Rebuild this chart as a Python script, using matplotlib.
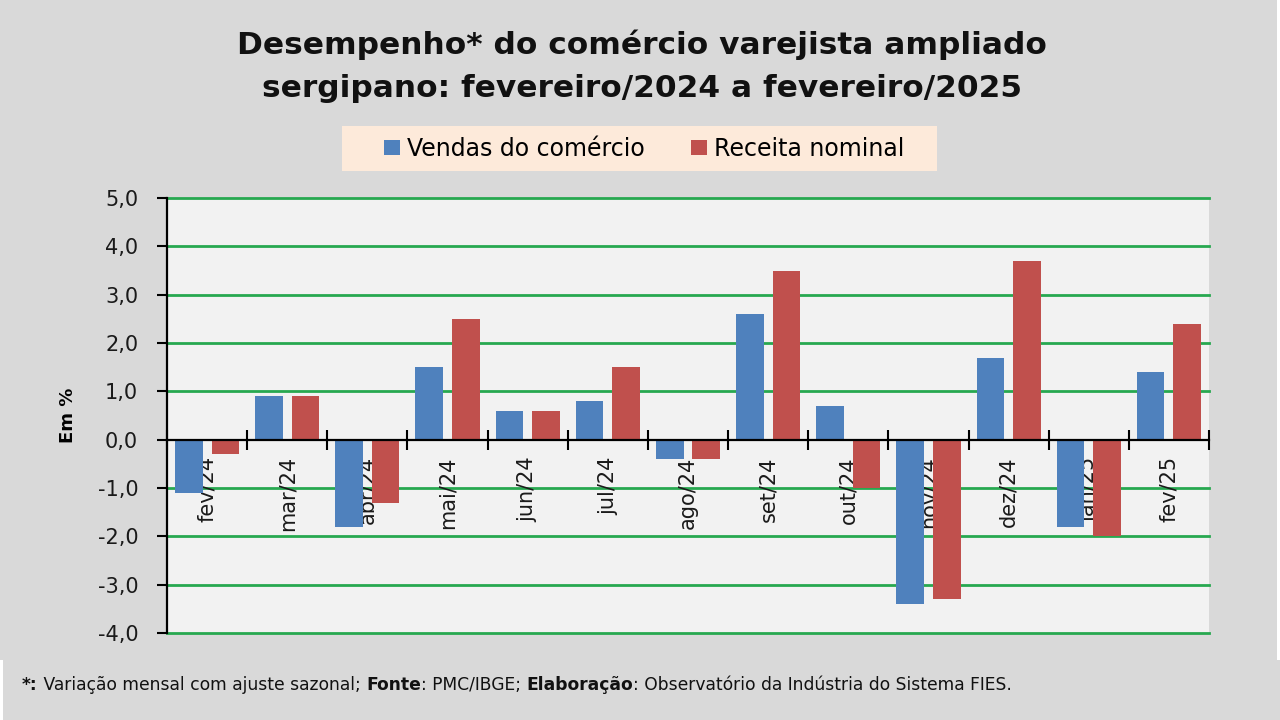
import matplotlib
matplotlib.use("Agg")
import matplotlib.pyplot as plt
from matplotlib.patches import Rectangle
import numpy as np

months = ["fev/24", "mar/24", "abr/24", "mai/24", "jun/24", "jul/24", "ago/24",
          "set/24", "out/24", "nov/24", "dez/24", "jan/25", "fev/25"]
vendas = [-1.1, 0.9, -1.8, 1.5, 0.6, 0.8, -0.4, 2.6, 0.7, -3.4, 1.7, -1.8, 1.4]
receita = [-0.3, 0.9, -1.3, 2.5, 0.6, 1.5, -0.4, 3.5, -1.0, -3.3, 3.7, -2.0, 2.4]
yticks = [5, 4, 3, 2, 1, 0, -1, -2, -3, -4]
ytick_labels = ["5,0", "4,0", "3,0", "2,0", "1,0", "0,0", "-1,0", "-2,0", "-3,0", "-4,0"]

plt.rcParams["font.family"] = ["DejaVu Sans"]

W, H = 1280, 720
fig = plt.figure(figsize=(12.8, 7.2), dpi=100, facecolor="#D9D9D9")

def px(x0, y0, x1, y1):
    return [x0 / W, 1 - y1 / H, (x1 - x0) / W, (y1 - y0) / H]

ax = fig.add_axes(px(167, 198, 1209, 633))
ax.set_facecolor("#F2F2F2")

x = np.arange(len(months))
bw = 0.345
off = 0.228
ax.bar(x - off, vendas, bw, color="#4F81BD", label="Vendas do comércio", zorder=3)
ax.bar(x + off, receita, bw, color="#C0504D", label="Receita nominal", zorder=3)

for v in yticks:
    if v != 0:
        ax.axhline(v, color="#27A850", lw=2.0, zorder=1, clip_on=False)

ax.set_xlim(-0.5, len(months) - 0.5)
ax.set_ylim(-4, 5)

for s in ["top", "right"]:
    ax.spines[s].set_visible(False)
ax.spines["bottom"].set_position(("data", 0))
ax.spines["bottom"].set_linewidth(1.6)
ax.spines["bottom"].set_zorder(4)
ax.spines["left"].set_linewidth(1.6)
ax.spines["left"].set_zorder(4)

ax.set_yticks(yticks)
ax.set_yticklabels(ytick_labels, fontsize=15, color="#1A1A1A")
ax.tick_params(axis="y", direction="out", length=7.2, width=1.5, pad=13.5)

ax.set_xticks(x)
ax.set_xticklabels(months, rotation=90, fontsize=15, va="top", ha="center", color="#1A1A1A")
ax.tick_params(axis="x", which="major", length=0, pad=12)
ax.set_xticks(np.arange(-0.5, len(months), 1), minor=True)
ax.tick_params(axis="x", which="minor", direction="inout", length=14, width=1.5)

fig.text(68 / W, 1 - 415 / H, "Em %", rotation=90, fontsize=13, fontweight="bold",
         ha="center", va="center")

fig.text(642 / W, 1 - 54 / H, "Desempenho* do comércio varejista ampliado",
         ha="center", va="baseline", fontsize=22.5, fontweight="bold", color="#111111")
fig.text(642 / W, 1 - 97 / H, "sergipano: fevereiro/2024 a fevereiro/2025",
         ha="center", va="baseline", fontsize=22.5, fontweight="bold", color="#111111")

# legend box
fig.patches.append(Rectangle((342 / W, 1 - 171 / H), 595 / W, 45 / H, lw=0,
                             transform=fig.transFigure, facecolor="#FDEADA", zorder=0))
fig.legend(loc="center", bbox_to_anchor=(644 / W, 1 - 149 / H), ncol=2, frameon=False,
           fontsize=17, handlelength=0.68, handleheight=0.6, handletextpad=0.3,
           columnspacing=1.95)

# footer with mixed bold
parts = [("*:", "bold"), (" Variação mensal com ajuste sazonal; ", "normal"),
         ("Fonte", "bold"), (": PMC/IBGE; ", "normal"), ("Elaboração", "bold"),
         (": Observatório da Indústria do Sistema FIES.", "normal")]
fig.canvas.draw()
r = fig.canvas.get_renderer()
xpos = 22
for txt, wt in parts:
    t = fig.text(xpos / W, 1 - 690 / H, txt, fontsize=12.3, fontweight=wt,
                 ha="left", va="baseline", color="#111111")
    bb = t.get_window_extent(renderer=r)
    xpos += bb.width

fig.patches.append(Rectangle((0, 0), 3 / W, 60 / H, transform=fig.transFigure, lw=0,
                             facecolor="white", zorder=0))
fig.patches.append(Rectangle((1277 / W, 60 / H), 3 / W, 1, transform=fig.transFigure, lw=0,
                             facecolor="white", zorder=0))

fig.savefig("out.png", dpi=100, facecolor=fig.get_facecolor())
